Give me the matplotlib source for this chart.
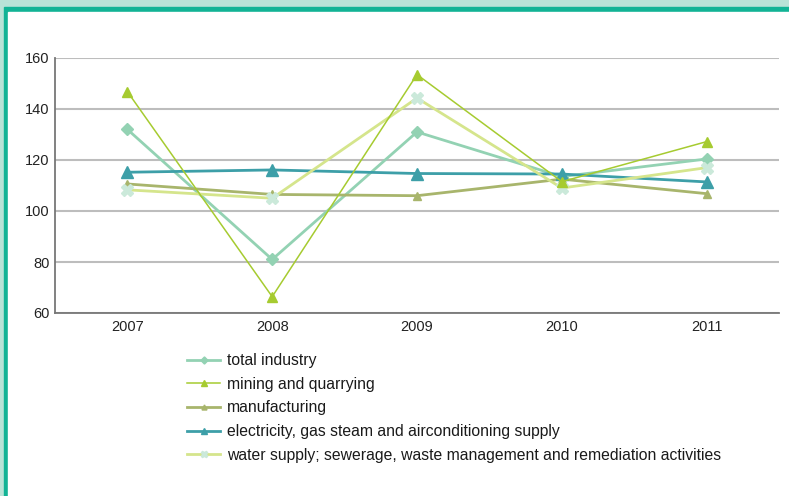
import numpy as np
import matplotlib
matplotlib.use("Agg")
import matplotlib.pyplot as plt
from matplotlib.patches import Rectangle

plt.rcParams["font.family"] = ["Liberation Sans", "DejaVu Sans"]

years = ["2007", "2008", "2009", "2010", "2011"]
total_industry = [132, 81, 131, 113.5, 120.4]
mining = [146.8, 66.4, 153.5, 111.5, 127.2]
manufacturing = [110.6, 106.5, 106, 112.5, 106.8]
electricity = [115.2, 116.1, 114.7, 114.5, 111.4]
water = [108.3, 105, 144.3, 109, 117]

labels = [
    "total industry",
    "mining and quarrying",
    "manufacturing",
    "electricity, gas steam and airconditioning supply",
    "water supply; sewerage, waste management and remediation activities",
]

W, H = 789, 496
fig = plt.figure(figsize=(W / 100, H / 100), dpi=100)

# frame: mint outer band, teal line, white page
fig.patches.append(Rectangle((0, 0), 1, 1, transform=fig.transFigure,
                             color="#b9e3d7", zorder=-3))
fig.patches.append(Rectangle((4 / W, 0), 1, 1 - 7 / H, transform=fig.transFigure,
                             color="#12b395", zorder=-2))
fig.patches.append(Rectangle((8 / W, 0), 1, 1 - 12 / H, transform=fig.transFigure,
                             color="white", zorder=-1))

ax = fig.add_axes([55 / W, (H - 313) / H, (779 - 55) / W, (313 - 58) / H])
ax.set_facecolor("none")

x = np.arange(len(years))
ax.plot(x, total_industry, color="#93d2b3", lw=2, marker="D", ms=6,
        label=labels[0], zorder=3)
ax.plot(x, mining, color="#a6cb30", lw=1.1, marker="^", ms=7,
        label=labels[1], zorder=4)
ax.plot(x, manufacturing, color="#a8b56c", lw=2, marker="^", ms=6,
        label=labels[2], zorder=3)
ax.plot(x, electricity, color="#3d9fa8", lw=2, marker="^", ms=8,
        label=labels[3], zorder=3)
ax.plot(x, water, color="#d5e58c", lw=2, marker="X", ms=8,
        markerfacecolor="#cbe9da", markeredgecolor="#cbe9da",
        label=labels[4], zorder=3)

ax.set_xlim(-0.5, len(years) - 0.5)
ax.set_ylim(60, 160)
ax.set_yticks([60, 80, 100, 120, 140, 160])
ax.set_xticks(x)
ax.set_xticklabels(years)
ax.yaxis.grid(True, color="#bdbdbd", lw=1.5)
ax.set_axisbelow(True)
ax.tick_params(length=0, labelsize=10.5, colors="#222222", pad=4)
ax.tick_params(axis="x", pad=5)
for s in ["top", "right"]:
    ax.spines[s].set_visible(False)
for s in ["left", "bottom"]:
    ax.spines[s].set_color("#777777")
    ax.spines[s].set_linewidth(1.3)

leg = ax.legend(loc="upper left", bbox_to_anchor=(173 / W, (H - 339) / H),
                bbox_transform=fig.transFigure, frameon=False, fontsize=11.3,
                handlelength=2.1, labelspacing=0.55, markerscale=0.6,
                handletextpad=0.45)
for t in leg.get_texts():
    t.set_color("#1a1a1a")

fig.savefig("out.png", dpi=100)
